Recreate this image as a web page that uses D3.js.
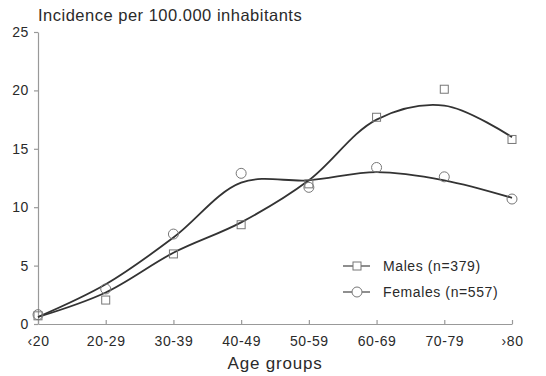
<!DOCTYPE html>
<html>
<head>
<meta charset="utf-8">
<script src="https://cdn.jsdelivr.net/npm/d3@7"></script>
<style>
  body { margin: 0; background: #fff; }
  text { font-family: "Liberation Sans", Arial, sans-serif; fill: #2a2a2a; }
</style>
</head>
<body>
<div id="chart"></div>
<script>
var ageGroups = ['\u203920', '20-29', '30-39', '40-49', '50-59', '60-69', '70-79', '\u203a80'];
var malesObserved = [0.7, 2.05, 6.0, 8.5, 12.0, 17.7, 20.1, 15.8];
var femalesObserved = [0.8, 3.0, 7.7, 12.9, 11.7, 13.4, 12.6, 10.7];
// smoothed curves
var malesFit = [0.6, 2.7, 6.1, 8.7, 12.3, 17.5, 18.7, 16.0];
var femalesFit = [0.6, 3.4, 7.4, 12.1, 12.3, 13.0, 12.3, 10.8];
var yTicks = [0, 5, 10, 15, 20, 25];
var legendLabels = ['Males (n=379)', 'Females (n=557)'];

var width = 546, height = 376;
var margin = { left: 38, right: 34, top: 32, bottom: 52 };

var svg = d3.select('#chart').append('svg')
    .attr('width', width)
    .attr('height', height);

var x = d3.scalePoint()
    .domain(ageGroups)
    .range([margin.left, width - margin.right]);

var y = d3.scaleLinear()
    .domain([0, 25])
    .range([height - margin.bottom, margin.top]);

var xAxis = svg.append('g')
    .attr('transform', 'translate(0,' + (height - margin.bottom) + ')')
    .call(d3.axisBottom(x).tickSize(-4).tickSizeOuter(0).tickPadding(12));
xAxis.selectAll('text').style('font-size', '14px').style('letter-spacing', '0.6px');

var yAxis = svg.append('g')
    .attr('transform', 'translate(' + margin.left + ',0)')
    .call(d3.axisLeft(y).tickValues(yTicks).tickSize(4).tickSizeOuter(0).tickPadding(5));
yAxis.selectAll('text').style('font-size', '14px').style('letter-spacing', '0.6px');

svg.selectAll('.domain, .tick line').attr('stroke', '#999').attr('stroke-width', 1.2);

// titles
svg.append('text')
    .attr('x', 38)
    .attr('y', 21)
    .style('font-size', '16.5px')
    .style('letter-spacing', '0.5px')
    .text('Incidence per 100.000 inhabitants');

svg.append('text')
    .attr('x', (margin.left + width - margin.right) / 2)
    .attr('y', 369)
    .attr('text-anchor', 'middle')
    .style('font-size', '17px')
    .style('letter-spacing', '0.8px')
    .text('Age groups');

var line = d3.line()
    .x(function (d, i) { return x(ageGroups[i]); })
    .y(function (d) { return y(d); })
    .curve(d3.curveCatmullRom.alpha(0.5));

[malesFit, femalesFit].forEach(function (s) {
    svg.append('path')
        .datum(s)
        .attr('d', line)
        .attr('fill', 'none')
        .attr('stroke', '#333')
        .attr('stroke-width', 1.8);
});

var sq = 8;
svg.selectAll('.male')
    .data(malesObserved)
    .enter()
    .append('rect')
    .attr('x', function (d, i) { return x(ageGroups[i]) - sq / 2; })
    .attr('y', function (d) { return y(d) - sq / 2; })
    .attr('width', sq)
    .attr('height', sq)
    .attr('fill', 'none')
    .attr('stroke', '#777')
    .attr('stroke-width', 1);

svg.selectAll('.female')
    .data(femalesObserved)
    .enter()
    .append('circle')
    .attr('cx', function (d, i) { return x(ageGroups[i]); })
    .attr('cy', function (d) { return y(d); })
    .attr('r', 5)
    .attr('fill', 'none')
    .attr('stroke', '#777')
    .attr('stroke-width', 1);

// legend
var legend = svg.selectAll('.legend')
    .data(legendLabels)
    .enter()
    .append('g')
    .attr('transform', function (d, i) { return 'translate(343,' + (266 + i * 26) + ')'; });
legend.append('line')
    .attr('x1', 0).attr('x2', 27)
    .attr('stroke', '#444').attr('stroke-width', 1.2);
legend.filter(function (d, i) { return i === 0; }).append('rect')
    .attr('x', 14 - sq / 2).attr('y', -sq / 2)
    .attr('width', sq).attr('height', sq)
    .attr('fill', '#fff').attr('stroke', '#777');
legend.filter(function (d, i) { return i === 1; }).append('circle')
    .attr('cx', 14).attr('r', 5)
    .attr('fill', '#fff').attr('stroke', '#777');
legend.append('text')
    .attr('x', 40)
    .attr('dy', '0.35em')
    .style('font-size', '14px')
    .style('letter-spacing', '0.6px')
    .text(function (d) { return d; });
</script>
</body>
</html>
